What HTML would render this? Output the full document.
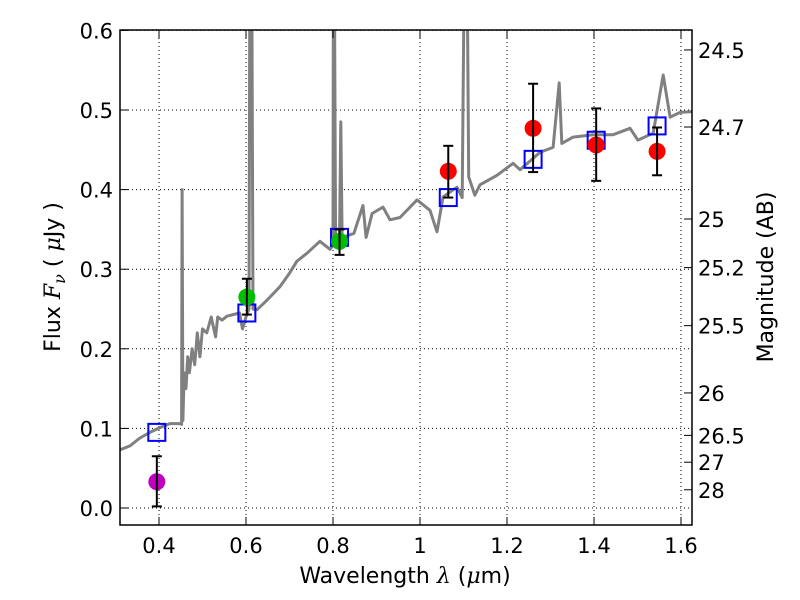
<!DOCTYPE html>
<html><head><meta charset="utf-8"><style>
body{margin:0;background:#fff}
svg{display:block;font-family:"DejaVu Sans","Liberation Sans",sans-serif}
</style></head><body>
<svg id="chart" width="800" height="600" viewBox="0 0 800 600">
<defs><clipPath id="clip"><rect x="120" y="30" width="572" height="495"/></clipPath></defs>
<rect x="0" y="0" width="800" height="600" fill="#fff"/>
<g id="grid"></g>
<g id="spec" clip-path="url(#clip)"></g>
<g id="marks"></g>
<rect x="120" y="30" width="572" height="495" fill="none" stroke="#000" stroke-width="1.5"/>
<g id="ticks"></g>
<text x="405" y="583" font-size="22" text-anchor="middle">Wavelength  <tspan font-style="italic" font-family="DejaVu Serif,serif">λ</tspan> (<tspan font-style="italic" font-family="DejaVu Serif,serif">μ</tspan>m)</text>
<text transform="translate(60,277) rotate(-90)" font-size="22" text-anchor="middle">Flux  <tspan font-style="italic" font-family="DejaVu Serif,serif">F</tspan><tspan font-style="italic" font-family="DejaVu Serif,serif" font-size="16" dy="5">ν</tspan><tspan dy="-5">  ( </tspan><tspan font-style="italic" font-family="DejaVu Serif,serif">μ</tspan>Jy )</text>
<text transform="translate(773,277) rotate(-90)" font-size="22" text-anchor="middle">Magnitude (AB)</text>
</svg>
<script>
const specWave=[0.310,0.333,0.356,0.379,0.402,0.425,0.448,0.452,0.453,0.455,0.458,0.462,0.466,0.470,0.476,0.482,0.488,0.494,0.500,0.510,0.520,0.530,0.535,0.545,0.556,0.585,0.592,0.600,0.607,0.609,0.613,0.616,0.625,0.650,0.678,0.700,0.717,0.740,0.770,0.793,0.800,0.801,0.803,0.806,0.815,0.818,0.821,0.848,0.869,0.876,0.890,0.915,0.931,0.954,0.993,1.023,1.039,1.053,1.085,1.097,1.102,1.108,1.112,1.126,1.138,1.177,1.214,1.230,1.276,1.306,1.320,1.326,1.352,1.398,1.444,1.483,1.501,1.536,1.559,1.575,1.598,1.625];
const specFlux=[0.073,0.078,0.088,0.095,0.101,0.106,0.106,0.105,0.400,0.110,0.170,0.150,0.190,0.170,0.200,0.180,0.220,0.190,0.225,0.220,0.240,0.215,0.240,0.236,0.241,0.245,0.225,0.240,0.250,0.700,0.700,0.250,0.249,0.262,0.278,0.295,0.310,0.320,0.335,0.325,0.330,0.700,0.700,0.330,0.335,0.485,0.340,0.345,0.380,0.340,0.370,0.378,0.362,0.365,0.387,0.374,0.347,0.391,0.403,0.390,0.700,0.700,0.416,0.393,0.406,0.418,0.433,0.425,0.447,0.453,0.534,0.458,0.466,0.469,0.469,0.477,0.462,0.471,0.544,0.491,0.497,0.498];
const obsWave=[0.395,0.602,0.815,1.065,1.260,1.405,1.545];
const obsFlux=[0.033,0.265,0.335,0.423,0.477,0.456,0.448];
const obsLo=[0.002,0.243,0.318,0.390,0.422,0.411,0.418];
const obsHi=[0.065,0.288,0.350,0.455,0.533,0.502,0.478];
const obsColor=['#bf00bf','#00bf00','#00bf00','#ff0000','#ff0000','#ff0000','#ff0000'];
const modelFlux=[0.095,0.245,0.340,0.390,0.438,0.462,0.480];
const xTicks=[0.4,0.6,0.8,1.0,1.2,1.4,1.6];
const xTickLabels=['0.4','0.6','0.8','1','1.2','1.4','1.6'];
const yTicks=[0.0,0.1,0.2,0.3,0.4,0.5,0.6];
const yTickLabels=['0.0','0.1','0.2','0.3','0.4','0.5','0.6'];
const magTicks=[24.5,24.7,25,25.2,25.5,26,26.5,27,28];
const magLabels=['24.5','24.7','25','25.2','25.5','26','26.5','27','28'];

const X=v=>159+(v-0.4)*435;
const Y=v=>508-v*796;
const NS='http://www.w3.org/2000/svg';
function mk(tag,parent,attrs){const e=document.createElementNS(NS,tag);for(const k in attrs)e.setAttribute(k,attrs[k]);parent.appendChild(e);return e;}
const grid=document.getElementById('grid'),spec=document.getElementById('spec'),marks=document.getElementById('marks'),ticks=document.getElementById('ticks');

xTicks.forEach((t,i)=>{
  const g=mk('line',grid,{x1:X(t),x2:X(t),y1:30,y2:525,stroke:'#000','stroke-width':1,'stroke-dasharray':'1,3'});
  
  
  const tk=mk('line',ticks,{x1:X(t),x2:X(t),y1:525,y2:517,stroke:'#000'});
  
  
  const tk2=mk('line',ticks,{x1:X(t),x2:X(t),y1:30,y2:38,stroke:'#000'});
  
  
  const tx=mk('text',ticks,{x:X(t),y:553,'font-size':21,'text-anchor':'middle'});
  tx.textContent=xTickLabels[i];
  
  
});
yTicks.forEach((t,i)=>{
  const g=mk('line',grid,{x1:120,x2:692,y1:Y(t),y2:Y(t),stroke:'#000','stroke-width':1,'stroke-dasharray':'1,3'});
  
  
  const tk=mk('line',ticks,{x1:120,x2:128,y1:Y(t),y2:Y(t),stroke:'#000'});
  
  
  const tx=mk('text',ticks,{x:113,y:Y(t)+8,'font-size':21,'text-anchor':'end'});
  tx.textContent=yTickLabels[i];
  
  
});
magTicks.forEach((m,i)=>{
  const f=Math.pow(10,(23.9-m)/2.5);
  const tk=mk('line',ticks,{x1:692,x2:684,y1:Y(f),y2:Y(f),stroke:'#000'});
  
  
  const tx=mk('text',ticks,{x:698,y:Y(f)+8,'font-size':21,'text-anchor':'start'});
  tx.textContent=magLabels[i];
  
  
});
const pts=specWave.map((w,i)=>X(w).toFixed(1)+','+Y(specFlux[i]).toFixed(1)).join(' ');
const pl=mk('polyline',spec,{points:pts,fill:'none',stroke:'#808080','stroke-width':3,'stroke-linejoin':'round'});



obsWave.forEach((w,i)=>{
  const sq=mk('rect',marks,{x:X(w)-8.5,y:Y(modelFlux[i])-8.5,width:17,height:17,fill:'none',stroke:'#0000ff','stroke-width':2});
  
  
  const c=mk('circle',marks,{cx:X(w),cy:Y(obsFlux[i]),r:8.5,fill:obsColor[i]});
  
  
  const e=mk('line',marks,{x1:X(w),x2:X(w),y1:Y(obsLo[i]),y2:Y(obsHi[i]),stroke:'#000','stroke-width':2});
  
  
  [obsLo[i],obsHi[i]].forEach(v=>{
    const cap=mk('line',marks,{x1:X(w)-5,x2:X(w)+5,y1:Y(v),y2:Y(v),stroke:'#000','stroke-width':2});
    
    
  });
});
</script>
</body></html>
